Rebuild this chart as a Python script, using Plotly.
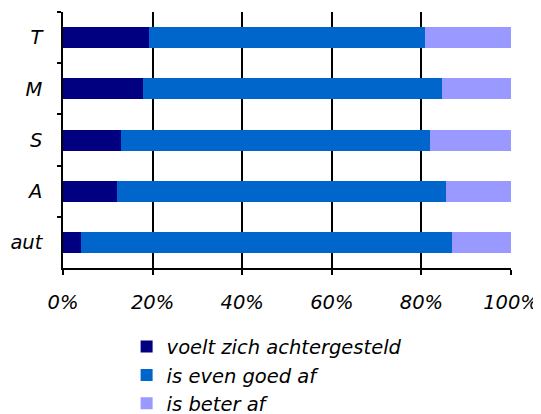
import plotly.graph_objects as go

# categories top to bottom
groups = ["T", "M", "S", "A", "aut"]
achtergesteld = [19.2, 17.8, 12.9, 12.0, 4.0]
even_goed = [61.5, 66.9, 69.1, 73.6, 82.9]
beter = [19.3, 15.3, 18.0, 14.4, 13.1]

series = [
    ("voelt zich achtergesteld", achtergesteld, "#000080"),
    ("is even goed af", even_goed, "#0066CC"),
    ("is beter af", beter, "#9999FF"),
]

fig = go.Figure()
for name, vals, col in series:
    fig.add_trace(go.Bar(
        y=groups, x=vals, name=name, orientation="h",
        marker=dict(color=col, line=dict(width=0)),
        legendgroup=name,
    ))

# the page body has an 8px margin, so the figure is drawn 8px in and down
fig.update_layout(
    barmode="stack",
    bargap=0.59,
    width=533, height=406,
    margin=dict(l=55, r=30, t=4, b=146, autoexpand=False),
    paper_bgcolor="white",
    plot_bgcolor="white",
    font=dict(family="DejaVu Sans", style="italic", size=19.5, color="black"),
    showlegend=True,
    legend=dict(
        x=0.142, xanchor="left", y=-0.232, yanchor="top",
        traceorder="grouped", tracegroupgap=0,
        font=dict(size=19.5),
        bgcolor="rgba(0,0,0,0)",
    ),
)

fig.update_xaxes(
    range=[0, 100], tickvals=[0, 20, 40, 60, 80, 100],
    ticktext=["0%", "20%", "40%", "60%", "80%", "100%"],
    showgrid=True, gridcolor="black", gridwidth=1.5,
    showline=True, linecolor="black", linewidth=1.5,
    ticks="outside", ticklen=5, tickcolor="black", tickwidth=1.5,
    ticklabelstandoff=11, zeroline=False, automargin=False,
)
fig.update_yaxes(
    autorange="reversed",
    showline=True, linecolor="black", linewidth=1.5,
    ticks="outside", tickson="boundaries", ticklen=4,
    tickcolor="black", tickwidth=1.5,
    ticklabelstandoff=15, showgrid=False, automargin=False,
)

fig.write_html("out.html")
